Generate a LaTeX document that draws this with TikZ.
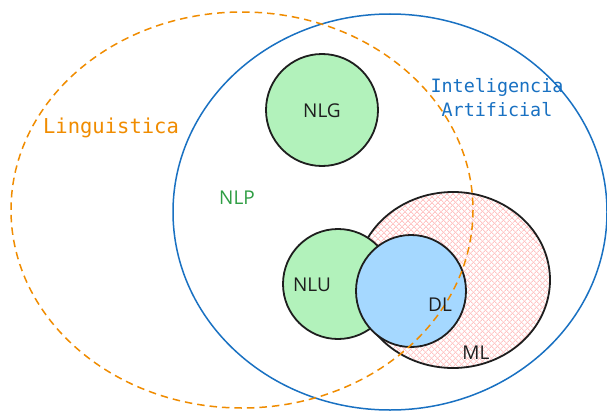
\documentclass[tikz,border=0pt]{standalone}
\usepackage{fontspec}
\setmainfont{Open Sans}
\newfontfamily\monofont{DejaVu Sans Mono}
\usetikzlibrary{patterns.meta}
\definecolor{ored}{HTML}{F08C00}
\definecolor{aiblue}{HTML}{1971C2}
\definecolor{nlgreen}{HTML}{B2F2BB}
\definecolor{dlblue}{HTML}{A5D8FF}
\definecolor{mlpink}{HTML}{FFC4C4}
\definecolor{txtgreen}{HTML}{2F9E44}
\definecolor{ink}{HTML}{1E1E1E}
\tikzset{
  setbox/.style={draw=ink, line width=1.8pt},
  lbl/.style={font=\fontsize{19}{22}\selectfont, text=ink, inner sep=0pt},
  biglbl/.style={font=\monofont\fontsize{18.4}{24}\selectfont, inner sep=0pt, align=center},
  hatch/.style={pattern={Lines[angle=#1,distance=4pt,line width=0.9pt]}, pattern color=mlpink},
}
\begin{document}
\begin{tikzpicture}[x=1pt,y=-1pt]
\useasboundingbox (0,0) rectangle (607,412);
\fill[white] (0,0) rectangle (607,412);
% AI circle
\draw[aiblue, line width=1.5pt] (390,212) ellipse [x radius=217, y radius=198];
% ML
\fill[white] (453,280) ellipse [x radius=97, y radius=88];
\fill[hatch=45] (453,280) ellipse [x radius=97, y radius=88];
\fill[hatch=-45] (453,280) ellipse [x radius=97, y radius=88];
\draw[setbox] (453,280) ellipse [x radius=97, y radius=88];
% NLG
\draw[setbox, fill=nlgreen] (322,110) ellipse [x radius=56, y radius=56];
% NLU
\draw[setbox, fill=nlgreen] (338,284) ellipse [x radius=55, y radius=55];
% DL
\draw[setbox, fill=dlblue] (411,291) ellipse [x radius=55, y radius=56];
% Linguistics ellipse
\draw[ored, line width=1.5pt, dash pattern=on 7.5pt off 5pt] (242,210) ellipse [x radius=231, y radius=198];
% labels
\node[lbl] (nlg) at (322,111) {NLG};
\node[lbl] (nlu) at (312,285) {NLU};
\node[lbl] (dl) at (440,305) {DL};
\node[lbl] (ml) at (476,353) {ML};
\node[lbl, text=txtgreen] (nlp) at (237,198) {NLP};
\node[biglbl, text=ored, font=\monofont\fontsize{20.5}{24}\selectfont] (ling) at (111,128) {Linguistica};
\node[biglbl, text=aiblue] (ia) at (497,98) {Inteligencia\\Artificial};
\end{tikzpicture}
\end{document}
